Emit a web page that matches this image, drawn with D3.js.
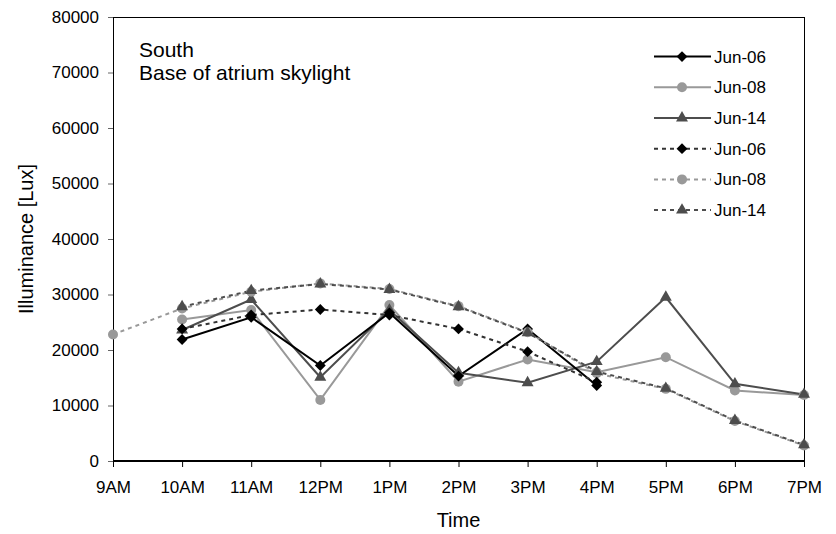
<!DOCTYPE html>
<html><head><meta charset="utf-8">
<script src="https://cdn.jsdelivr.net/npm/d3@7"></script>
<style>body{margin:0;background:#fff}svg{display:block}text{font-family:"Liberation Sans",Arial,sans-serif;fill:#000}</style>
</head><body><svg id="c" width="836" height="534"></svg>
<script>
const categories = ["9AM","10AM","11AM","12PM","1PM","2PM","3PM","4PM","5PM","6PM","7PM"];
const yTicks = [0,10000,20000,30000,40000,50000,60000,70000,80000];
const jun06Solid = [null,21900,25900,17200,26700,15300,23800,13600,null,null,null];
const jun08Solid = [null,25500,27200,11000,28100,14300,18300,16000,18700,12700,11900];
const jun14Solid = [null,23600,29100,15100,27200,15900,14100,17900,29500,13900,12000];
const jun06Dash  = [null,23800,26300,27300,26300,23800,19700,14200,null,null,null];
const jun08Dash  = [22800,27500,30500,32000,31000,27900,23200,15800,13000,7200,2800];
const jun14Dash  = [null,27800,30700,31900,30900,27800,23100,16100,13100,7300,2900];
const legendLabels = ["Jun-06","Jun-08","Jun-14","Jun-06","Jun-08","Jun-14"];

const series = [
  {name:"Jun-06", values:jun06Solid, color:"#000", shape:"diamond", dash:null},
  {name:"Jun-08", values:jun08Solid, color:"#999", shape:"circle", dash:null},
  {name:"Jun-14", values:jun14Solid, color:"#4d4d4d", shape:"triangle", dash:null},
  {name:"Jun-06", values:jun06Dash, color:"#000", shape:"diamond", dash:"4,4", lineColor:"#333"},
  {name:"Jun-08", values:jun08Dash, color:"#999", shape:"circle", dash:"4,4", lineColor:"#999"},
  {name:"Jun-14", values:jun14Dash, color:"#4d4d4d", shape:"triangle", dash:"4,4", lineColor:"#4d4d4d"}
];

const L=113, R=804, T=17, B=461;
const svg = d3.select("#c");
const x = d3.scalePoint().domain(categories).range([L,R]);
const y = d3.scaleLinear().domain([0,80000]).range([B,T]);

svg.append("line").attr("x1",L).attr("x2",R).attr("y1",T+0.5).attr("y2",T+0.5).attr("stroke","#000");
svg.append("line").attr("x1",R+0.5).attr("x2",R+0.5).attr("y1",T).attr("y2",B).attr("stroke","#000");

const ya = svg.append("g").attr("transform",`translate(${L},0)`)
  .call(d3.axisLeft(y).tickValues(yTicks).tickSize(5).tickPadding(9).tickFormat(d3.format("d")));
ya.select(".domain").attr("stroke","#000").attr("d",`M0.5,${T}V${B}`);
ya.selectAll(".tick line").attr("stroke","#666");
ya.selectAll("text").style("font-size","17px").attr("font-family","Liberation Sans, Arial");

const xa = svg.append("g").attr("transform",`translate(0,${B})`)
  .call(d3.axisBottom(x).tickSize(6).tickPadding(14));
xa.select(".domain").attr("stroke","#000").attr("stroke-width",2).attr("d",`M${L},0H${R}`);
xa.selectAll(".tick line").attr("stroke","#000");
xa.selectAll("text").style("font-size","17px").attr("font-family","Liberation Sans, Arial");

svg.append("text").attr("x",(L+R)/2).attr("y",527).attr("text-anchor","middle").style("font-size","20px").text("Time");
svg.append("text").attr("transform",`translate(33,${(T+B)/2}) rotate(-90)`).attr("text-anchor","middle").style("font-size","20px").text("Illuminance [Lux]");
svg.append("text").attr("x",139).attr("y",57).style("font-size","21px").text("South");
svg.append("text").attr("x",139).attr("y",80).style("font-size","21px").text("Base of atrium skylight");

function marker(g, shape, color){
  if(shape==="circle") return g.append("circle").attr("r",5).attr("fill",color);
  if(shape==="diamond") return g.append("path").attr("d",d3.symbol(d3.symbolDiamond2,75)()).attr("fill",color);
  return g.append("path").attr("d",d3.symbol(d3.symbolTriangle,62)()).attr("fill",color);
}

const order = [1,2,0,4,5,3];
const line = d3.line().defined(d=>d.v!=null).x(d=>x(d.c)).y(d=>y(d.v));
order.forEach(i=>{
  const s = series[i];
  const pts = categories.map((c,k)=>({c, v:s.values[k]}));
  svg.append("path").datum(pts).attr("d",line).attr("fill","none")
    .attr("stroke", s.lineColor||s.color).attr("stroke-width",2)
    .attr("stroke-dasharray", s.dash);
});
order.forEach(i=>{
  const s = series[i];
  categories.forEach((c,k)=>{
    if(s.values[k]==null) return;
    const g = svg.append("g").attr("transform",`translate(${x(c)},${y(s.values[k])})`);
    marker(g, s.shape, s.color);
  });
});

const ly0 = 56.6, lstep = 30.7;
series.forEach((s,i)=>{
  const yy = ly0 + i*lstep;
  svg.append("line").attr("x1",654).attr("x2",711).attr("y1",yy).attr("y2",yy)
    .attr("stroke", s.lineColor||s.color).attr("stroke-width",2).attr("stroke-dasharray", s.dash);
  const g = svg.append("g").attr("transform",`translate(682,${yy})`);
  marker(g, s.shape, s.color);
  svg.append("text").attr("x",714).attr("y",yy).attr("dy","0.35em").style("font-size","17px").text(legendLabels[i]);
});
</script></body></html>
